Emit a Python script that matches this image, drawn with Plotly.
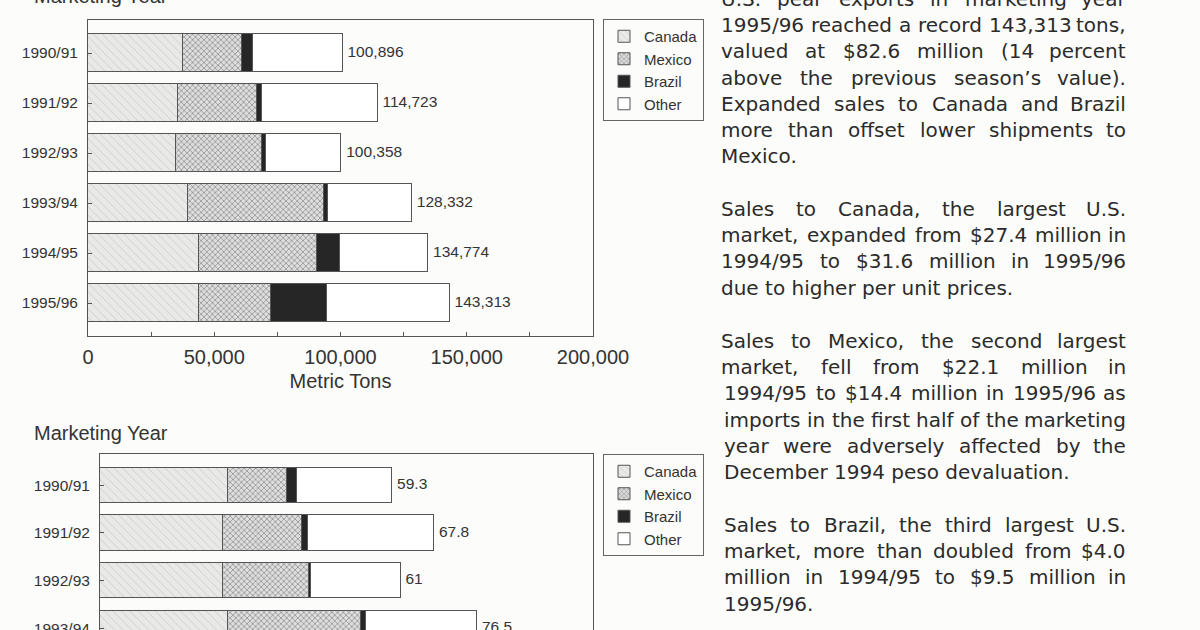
import plotly.graph_objects as go

# ---------------- data ----------------
years = ["1990/91", "1991/92", "1992/93", "1993/94", "1994/95", "1995/96"]
series = ["Canada", "Mexico", "Brazil", "Other"]

# Top chart: volume (metric tons)
canada_t = [37500, 35700, 34700, 39600, 43800, 44000]
mexico_t = [23300, 31200, 34200, 53700, 46900, 28500]
brazil_t = [4600, 1900, 1400, 1600, 9100, 22200]
total_t = [100896, 114723, 100358, 128332, 134774, 143313]
other_t = [t - c - m - b for t, c, m, b in zip(total_t, canada_t, mexico_t, brazil_t)]

# Bottom chart: value (million dollars), only the visible years
years_v = ["1990/91", "1991/92", "1992/93", "1993/94"]
canada_v = [26.0, 24.9, 24.9, 26.0]
mexico_v = [11.9, 16.0, 17.4, 27.0]
brazil_v = [2.1, 1.2, 0.5, 1.0]
total_v = [59.3, 67.8, 61.0, 76.5]
other_v = [round(t - c - m - b, 1) for t, c, m, b in zip(total_v, canada_v, mexico_v, brazil_v)]

x_ticks_t = [0, 50000, 100000, 150000, 200000]
x_ticklabels_t = ["0", "50,000", "100,000", "150,000", "200,000"]

paragraphs = [
    ["U.S. pear exports in marketing year",
     "1995/96 reached a record 143,313 tons,",
     "valued at $82.6 million (14 percent",
     "above the previous season\u2019s value).",
     "Expanded sales to Canada and Brazil",
     "more than offset lower shipments to",
     "Mexico."],
    ["Sales to Canada, the largest U.S.",
     "market, expanded from $27.4 million in",
     "1994/95 to $31.6 million in 1995/96",
     "due to higher per unit prices."],
    ["Sales to Mexico, the second largest",
     "market, fell from $22.1 million in",
     "1994/95 to $14.4 million in 1995/96 as",
     "imports in the first half of the marketing",
     "year were adversely affected by the",
     "December 1994 peso devaluation."],
    ["Sales to Brazil, the third largest U.S.",
     "market, more than doubled from $4.0",
     "million in 1994/95 to $9.5 million in",
     "1995/96."],
]

# ---------------- layout helpers ----------------
W, H = 1200, 630
def px(x):
    return x / W
def py(y):
    return 1 - y / H

CHART_FONT = "Liberation Sans, Arial, sans-serif"
TXT = "#333333"
PAPER = "#fcfcfa"
LINE = "#555555"

styles = {
    "Canada": dict(color="#ebebe9",
                   pattern=dict(shape="\\", fgcolor="#b0b0b0", bgcolor="#e9e9e7", size=6, solidity=0.15)),
    "Mexico": dict(color="#d9d9d9",
                   pattern=dict(shape="x", fgcolor="#404040", bgcolor="#dedede", size=4, solidity=0.35)),
    "Brazil": dict(color="#262626"),
    "Other": dict(color="#ffffff"),
}

fig = go.Figure()

def add_chart(yvals, data, totals, labels, xa, ya, legend, width):
    for name, vals in zip(series, data):
        st = styles[name]
        marker = dict(color=st["color"], line=dict(color=LINE, width=1))
        if "pattern" in st:
            marker["pattern"] = st["pattern"]
        fig.add_trace(go.Bar(
            x=vals, y=yvals, name=name, orientation="h", marker=marker,
            width=width, xaxis=xa, yaxis=ya, legend=legend, hoverinfo="x+y+name",
        ))
    fig.add_trace(go.Scatter(
        x=totals, y=yvals, mode="markers+text", text=labels, textposition="middle right",
        marker=dict(size=6, color="rgba(0,0,0,0)"),
        textfont=dict(family=CHART_FONT, size=15.5, color=TXT),
        xaxis=xa, yaxis=ya, showlegend=False, hoverinfo="skip", cliponaxis=False,
    ))

add_chart(years, [canada_t, mexico_t, brazil_t, other_t], total_t,
          [f"{v:,}" for v in total_t], "x", "y", "legend", 0.75)
add_chart(years_v, [canada_v, mexico_v, brazil_v, other_v], total_v,
          [f"{v:g}" for v in total_v], "x2", "y2", "legend2", 0.74)

# ---------------- justified body text ----------------
DV = {' ': 651, '!': 821, '$': 1303, "'": 563, '\u2019': 651, '(': 799, ')': 799, ',': 651,
      '-': 739, '.': 651, '/': 690,
      'A': 1401, 'B': 1405, 'C': 1430, 'D': 1577, 'E': 1294, 'F': 1178, 'G': 1587, 'H': 1540,
      'I': 604, 'J': 604, 'K': 1343, 'L': 1141, 'M': 1767, 'N': 1532, 'O': 1612, 'P': 1235,
      'Q': 1612, 'R': 1423, 'S': 1300, 'T': 1251, 'U': 1499, 'V': 1401, 'W': 2025, 'X': 1403,
      'Y': 1251, 'Z': 1403,
      'a': 1255, 'b': 1300, 'c': 1126, 'd': 1300, 'e': 1260, 'f': 721, 'g': 1300, 'h': 1298,
      'i': 569, 'j': 569, 'k': 1186, 'l': 569, 'm': 1995, 'n': 1298, 'o': 1253, 'p': 1300,
      'q': 1300, 'r': 842, 's': 1067, 't': 803, 'u': 1298, 'v': 1212, 'w': 1675, 'x': 1212,
      'y': 1212, 'z': 1075}
for d in "0123456789":
    DV[d] = 1303

BODY_SIZE = 20
def wwidth(s):
    return sum(DV.get(ch, 1250) for ch in s) / 2048 * BODY_SIZE

annotations = []
body_font = dict(family="DejaVu Sans, sans-serif", size=BODY_SIZE, color="#2b2b2b")
para_start = [-1, 209, 341, 525]
LEAD = 26.2
RIGHT = 1127
for p, (lines, y0) in enumerate(zip(paragraphs, para_start)):
    for i, line in enumerate(lines):
        yc = y0 + i * LEAD
        left = 720 if yc < 380 else 723
        words = line.split(" ")
        last = (i == len(lines) - 1)
        if last or len(words) == 1:
            annotations.append(dict(x=px(left), y=py(yc), xref="paper", yref="paper",
                                    text=line, showarrow=False, xanchor="left",
                                    yanchor="middle", font=body_font, borderpad=0))
            continue
        widths = [wwidth(w) for w in words]
        gap = (RIGHT - left - sum(widths)) / (len(words) - 1)
        xcur = left
        for j, (w, wd) in enumerate(zip(words, widths)):
            if j == len(words) - 1:
                annotations.append(dict(x=px(RIGHT), y=py(yc), xref="paper", yref="paper",
                                        text=w, showarrow=False, xanchor="right",
                                        yanchor="middle", font=body_font, borderpad=0))
            else:
                annotations.append(dict(x=px(xcur), y=py(yc), xref="paper", yref="paper",
                                        text=w, showarrow=False, xanchor="left",
                                        yanchor="middle", font=body_font, borderpad=0))
            xcur += wd + gap

# chart titles
for yc in [-4, 433]:
    annotations.append(dict(x=px(33), y=py(yc), xref="paper", yref="paper",
                            text="Marketing Year", showarrow=False, xanchor="left",
                            yanchor="middle", font=dict(family=CHART_FONT, size=20, color=TXT),
                            borderpad=0))

legend_common = dict(
    font=dict(family=CHART_FONT, size=15, color=TXT),
    bordercolor="#666666", borderwidth=1, bgcolor=PAPER,
    xanchor="left", yanchor="top", traceorder="normal", itemwidth=30,
    tracegroupgap=0, itemclick=False, itemdoubleclick=False,
)

fig.update_layout(
    width=W, height=H, autosize=False,
    margin=dict(l=0, r=0, t=0, b=0, autoexpand=False),
    paper_bgcolor=PAPER, plot_bgcolor=PAPER,
    barmode="stack", bargap=0,
    showlegend=True,
    legend=dict(x=px(603), y=py(19), **legend_common),
    legend2=dict(x=px(603), y=py(454), **legend_common),
    annotations=annotations,
    xaxis=dict(
        domain=[px(88), px(593)], range=[0, 200000], anchor="y", automargin=False,
        tickvals=x_ticks_t, ticktext=x_ticklabels_t,
        ticks="inside", ticklen=4, tickcolor=LINE,
        minor=dict(dtick=25000, ticks="inside", ticklen=4, tickcolor=LINE),
        showgrid=False, zeroline=False,
        showline=True, linecolor=LINE, linewidth=1, mirror=True,
        tickfont=dict(family=CHART_FONT, size=20, color=TXT), ticklabelstandoff=3,
        title=dict(text="Metric Tons", font=dict(family=CHART_FONT, size=20, color=TXT), standoff=6),
        fixedrange=True,
    ),
    yaxis=dict(
        domain=[py(336), py(20)], type="category", range=[5.66, -0.66], anchor="x",
        automargin=False,
        ticks="inside", ticklen=4, tickcolor=LINE,
        showgrid=False, zeroline=False,
        showline=True, linecolor=LINE, linewidth=1, mirror=True,
        tickfont=dict(family=CHART_FONT, size=15.5, color=TXT), ticklabelstandoff=6,
        fixedrange=True,
    ),
    xaxis2=dict(
        domain=[px(100), px(593)], range=[0, 100], anchor="y2", side="top", automargin=False,
        showticklabels=False, ticks="",
        showgrid=False, zeroline=False,
        showline=True, linecolor=LINE, linewidth=1,
        fixedrange=True,
    ),
    yaxis2=dict(
        domain=[0, py(454)], type="category", range=[3.04, -0.66], anchor="x2",
        automargin=False,
        ticks="inside", ticklen=4, tickcolor=LINE,
        showgrid=False, zeroline=False,
        showline=True, linecolor=LINE, linewidth=1, mirror=True,
        tickfont=dict(family=CHART_FONT, size=15.5, color=TXT), ticklabelstandoff=6,
        fixedrange=True,
    ),
)

fig.write_html("out.html")
